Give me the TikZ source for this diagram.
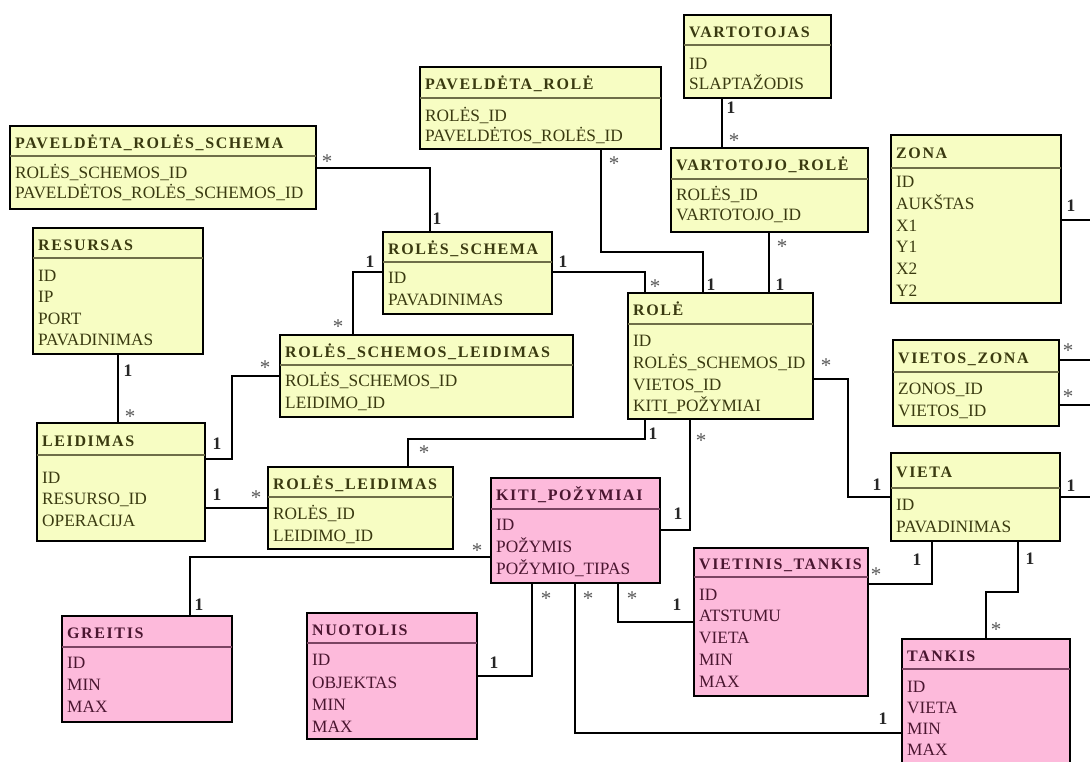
\documentclass[tikz,border=0pt]{standalone}
\usepackage{fontspec}
\setmainfont{Liberation Serif}
\newfontfamily\titlefont[LetterSpace=10]{Liberation Serif}

\definecolor{yelfill}{HTML}{F7FDC3}
\definecolor{yeltext}{HTML}{3A3A10}
\definecolor{yelrule}{HTML}{6E6E48}
\definecolor{pnkfill}{HTML}{FDBADB}
\definecolor{pnktext}{HTML}{4A1630}
\definecolor{pnkrule}{HTML}{7A4462}

\tikzset{
  tabbox/.style={draw=black, line width=2.6pt, inner sep=0pt, outer sep=0pt, rectangle},
  tabtitle/.style={font=\titlefont\bfseries\fontsize{16}{19}\selectfont, inner sep=0pt, anchor=base west},
  tabrow/.style={font=\fontsize{17.3}{20}\selectfont, inner sep=0pt, anchor=base west},
  conn/.style={line width=2.4pt, draw=black},
  cardone/.style={font=\bfseries\fontsize{17.5}{20}\selectfont, text=black!85, inner sep=0pt, anchor=base},
  cardmany/.style={font=\fontsize{21}{24}\selectfont, text=black!65, inner sep=0pt, anchor=base},
}

% entity table: name, colour kind, x1, y1, x2, y2, header rule y, title, rows (y/text)
\newcommand\ertab[9]{%
  \node[tabbox, fill=#2fill, anchor=north west,
        minimum width={(#5-#3)*1pt}, minimum height={(#6-#4)*1pt}] (#1) at (#3,#4) {};
  \draw[#2rule, line width=1.4pt] (#3,#7) -- (#5,#7);
  \node[tabtitle, text=#2text] (#1-t) at ({#3+5},{(#4+#7)/2+7}) {#8};
  \foreach \ry/\rt [count=\ri] in {#9}
    \node[tabrow, text=#2text] (#1-r\ri) at ({#3+5},{\ry+5.7}) {\rt};
}
% multiplicity labels
\newcommand\cone[3]{\node[cardone] (#1) at (#2,{#3+6}) {1};}
\newcommand\cmany[3]{\node[cardmany] (#1) at (#2,{#3+10.5}) {*};}

\begin{document}
\begin{tikzpicture}[x=1pt,y=-1pt]
\useasboundingbox (0,0) rectangle (1090,761);
\fill[white] (0,0) rectangle (1090,761);
\clip (0,0) rectangle (1090,761);

% ---- tables ----
\ertab{prs}{yel}{10}{126}{316}{209}{156}{PAVELDĖTA\_ROLĖS\_SCHEMA}
  {173/ROLĖS\_SCHEMOS\_ID,193/PAVELDĖTOS\_ROLĖS\_SCHEMOS\_ID}
\ertab{prole}{yel}{420}{67}{661}{149}{98}{PAVELDĖTA\_ROLĖ}
  {116/ROLĖS\_ID,136/PAVELDĖTOS\_ROLĖS\_ID}
\ertab{vart}{yel}{684}{15}{831}{98}{45}{VARTOTOJAS}
  {64/ID,84/SLAPTAŽODIS}
\ertab{vrole}{yel}{671}{148}{868}{232}{179}{VARTOTOJO\_ROLĖ}
  {195/ROLĖS\_ID,215/VARTOTOJO\_ID}
\ertab{zona}{yel}{891}{135}{1061}{303}{168}{ZONA}
  {182/ID,204/AUKŠTAS,226/X1,247/Y1,269/X2,291/Y2}
\ertab{rs}{yel}{383}{232}{552}{314}{262}{ROLĖS\_SCHEMA}
  {278/ID,300/PAVADINIMAS}
\ertab{resursas}{yel}{33}{228}{203}{354}{258}{RESURSAS}
  {276/ID,297/IP,319/PORT,340/PAVADINIMAS}
\ertab{rsl}{yel}{280}{335}{573}{417}{365}{ROLĖS\_SCHEMOS\_LEIDIMAS}
  {381/ROLĖS\_SCHEMOS\_ID,403/LEIDIMO\_ID}
\ertab{role}{yel}{628}{293}{813}{419}{324}{ROLĖ}
  {341/ID,363/ROLĖS\_SCHEMOS\_ID,385/VIETOS\_ID,406/KITI\_POŽYMIAI}
\ertab{vz}{yel}{893}{340}{1059}{426}{372}{VIETOS\_ZONA}
  {389/ZONOS\_ID,411/VIETOS\_ID}
\ertab{leid}{yel}{37}{423}{205}{541}{455}{LEIDIMAS}
  {478/ID,499/RESURSO\_ID,521/OPERACIJA}
\ertab{rl}{yel}{268}{467}{453}{549}{497}{ROLĖS\_LEIDIMAS}
  {514/ROLĖS\_ID,536/LEIDIMO\_ID}
\ertab{kp}{pnk}{491}{478}{660}{583}{509}{KITI\_POŽYMIAI}
  {525/ID,547/POŽYMIS,569/POŽYMIO\_TIPAS}
\ertab{vieta}{yel}{891}{453}{1060}{541}{488}{VIETA}
  {505/ID,527/PAVADINIMAS}
\ertab{greitis}{pnk}{62}{616}{232}{722}{647}{GREITIS}
  {663/ID,685/MIN,707/MAX}
\ertab{nuot}{pnk}{307}{613}{477}{739}{643}{NUOTOLIS}
  {660/ID,683/OBJEKTAS,705/MIN,727/MAX}
\ertab{vt}{pnk}{694}{548}{868}{696}{577}{VIETINIS\_TANKIS}
  {595/ID,616/ATSTUMU,638/VIETA,660/MIN,682/MAX}
\ertab{tankis}{pnk}{902}{639}{1070}{775}{669}{TANKIS}
  {687/ID,708/VIETA,729/MIN,750/MAX}

% ---- free ends at the right border ----
\coordinate (ezona) at (1092,220);
\coordinate (evz1) at (1092,360);
\coordinate (evz2) at (1092,405);
\coordinate (evieta) at (1092,497);

% ---- relationships ----
\draw[conn] ([yshift=-42pt]prs.north east) -| ([xshift=47pt]rs.north west);
\draw[conn] ([xshift=181pt]prole.south west) -- ++(0,103) -| ([xshift=75pt]role.north west);
\draw[conn] ([xshift=38pt]vart.south west) -- ([xshift=51pt]vrole.north west);
\draw[conn] ([xshift=98pt]vrole.south west) -- ([xshift=141pt]role.north west);
\draw[conn] ([yshift=-85pt]zona.north east) -- (ezona);
\draw[conn] ([yshift=-20pt]vz.north east) -- (evz1);
\draw[conn] ([yshift=-65pt]vz.north east) -- (evz2);
\draw[conn] ([yshift=-40pt]rs.north east) -| ([xshift=17pt]role.north west);
\draw[conn] ([yshift=-40pt]rs.north west) -| ([xshift=73pt]rsl.north west);
\draw[conn] ([yshift=-41pt]rsl.north west) -- ++(-48,0) |- ([yshift=-36pt]leid.north east);
\draw[conn] ([xshift=85pt]resursas.south west) -- ([xshift=81pt]leid.north west);
\draw[conn] ([yshift=-85pt]leid.north east) -- ([yshift=-41pt]rl.north west);
\draw[conn] ([xshift=140pt]rl.north west) -- ++(0,-28) -| ([xshift=17pt]role.south west);
\draw[conn] ([xshift=62pt]role.south west) |- ([yshift=-52pt]kp.north east);
\draw[conn] ([yshift=-79pt]kp.north west) -| ([xshift=128pt]greitis.north west);
\draw[conn] ([xshift=41pt]kp.south west) |- ([yshift=-63pt]nuot.north east);
\draw[conn] ([xshift=84pt]kp.south west) |- ([yshift=-94pt]tankis.north west);
\draw[conn] ([xshift=127pt]kp.south west) |- ([yshift=-74pt]vt.north west);
\draw[conn] ([yshift=-86pt]role.north east) -- ++(35,0) |- ([yshift=-44pt]vieta.north west);
\draw[conn] ([yshift=-44pt]vieta.north east) -- (evieta);
\draw[conn] ([xshift=41pt]vieta.south west) |- ([yshift=-36pt]vt.north east);
\draw[conn] ([xshift=127pt]vieta.south west) -- ++(0,51) -| ([xshift=84pt]tankis.north west);

% ---- multiplicities ----
\cmany{m1}{327}{158} \cone{o1}{437}{218}
\cmany{m2}{614}{160} \cone{o2}{711}{284}
\cone{o3}{731}{107} \cmany{m3}{734}{137}
\cmany{m4}{782}{243} \cone{o4}{780}{284}
\cone{o5}{1071}{205}
\cmany{m6a}{1068}{347} \cmany{m6b}{1068}{393}
\cone{o7}{563}{261} \cmany{m7}{655}{283}
\cone{o8}{370}{261} \cmany{m8}{338}{323}
\cmany{m9}{265}{364} \cone{o9}{217}{443}
\cone{o10}{128}{370} \cmany{m10}{130}{413}
\cone{o11}{217}{494} \cmany{m11}{256}{494}
\cmany{m12}{424}{449} \cone{o12}{653}{433}
\cmany{m13}{701}{437} \cone{o13}{678}{513}
\cmany{m14}{477}{547} \cone{o14}{199}{604}
\cmany{m15}{546}{595} \cone{o15}{494}{662}
\cmany{m16}{588}{595} \cone{o16}{883}{718}
\cmany{m17}{632}{595} \cone{o17}{677}{604}
\cmany{m18}{826}{362} \cone{o18}{877}{484}
\cone{o19}{1071}{485}
\cone{o20}{917}{559} \cmany{m20}{876}{571}
\cone{o21}{1030}{558} \cmany{m21}{996}{626}
\end{tikzpicture}
\end{document}
